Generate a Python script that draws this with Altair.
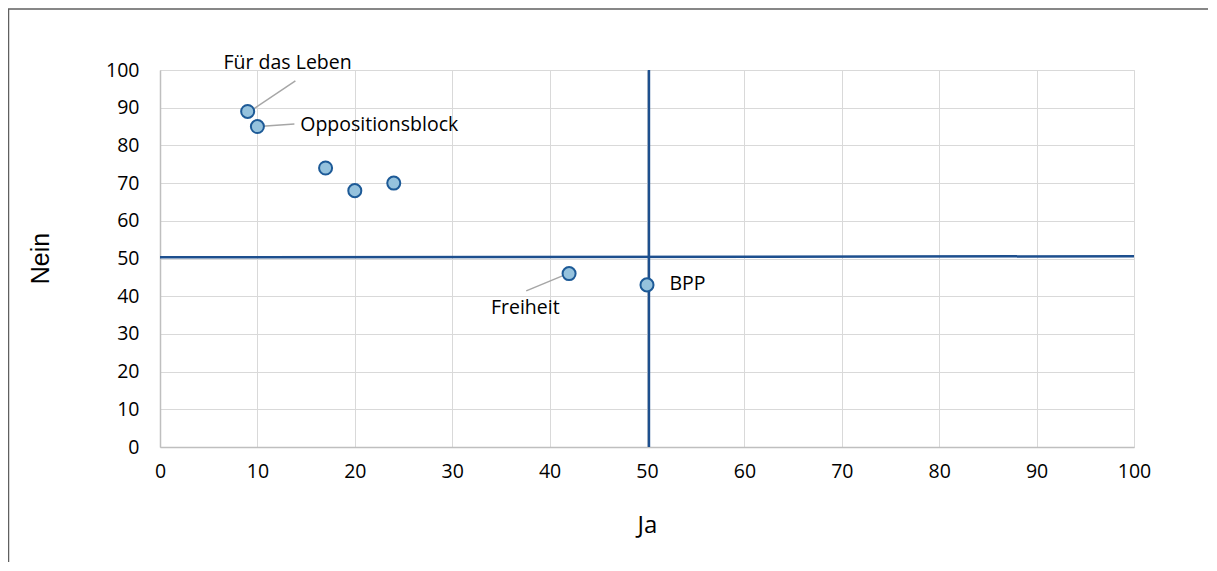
import altair as alt
import pandas as pd

# Data points
parties = ["Für das Leben", "Oppositionsblock", "", "", "", "Freiheit", "BPP"]
ja = [9, 10, 17, 20, 24, 42, 50]
nein = [89, 85, 74, 68, 70, 46, 43]

# Labels (anchor positions in data units)
label_text = ["Für das Leben", "Oppositionsblock", "Freiheit", "BPP"]
label_x = [13.1, 14.4, 37.5, 52.3]
label_y = [101.9, 85.4, 36.9, 43.2]
label_align = ["center", "left", "center", "left"]

# Leader lines (start/end in data units)
leader_id = ["a", "a", "b", "b", "c", "c"]
leader_x = [9.45, 13.9, 10.5, 13.8, 41.5, 37.6]
leader_y = [89.4, 97.1, 85.1, 85.7, 45.6, 41.4]

# Reference (quadrant) lines
ref_id = ["h", "h", "v", "v"]
ref_x = [0, 100, 50.2, 50.2]
ref_y = [50.3, 50.6, 0, 100]

ticks = list(range(0, 101, 10))
FONT = "Open Sans"
FS = 19.5

pts = pd.DataFrame({"party": parties, "ja": ja, "nein": nein})
labels = pd.DataFrame({"t": label_text, "x": label_x, "y": label_y, "al": label_align})
leaders = pd.DataFrame({"id": leader_id, "x": leader_x, "y": leader_y})
refs = pd.DataFrame({"id": ref_id, "x": ref_x, "y": ref_y})

xscale = alt.Scale(domain=[0, 100], nice=False)
yscale = alt.Scale(domain=[0, 100], nice=False)

xaxis = alt.Axis(values=ticks, title="Ja", grid=True, gridColor="#D9D9D9",
                 domainColor="#BFBFBF", domainWidth=1.5, ticks=False, tickSize=0,
                 labelPadding=15, labelFontSize=FS, labelFont=FONT, labelColor="#000",
                 labelOverlap=False, labelFlush=False,
                 titleFont=FONT, titleFontSize=24, titleFontWeight="normal", titleColor="#000",
                 titleBaseline="middle", titleY=78)
yaxis = alt.Axis(values=ticks, title="Nein", grid=True, gridColor="#D9D9D9",
                 domainColor="#BFBFBF", domainWidth=1.5, ticks=False, tickSize=0,
                 labelPadding=21, labelFontSize=FS, labelFont=FONT, labelColor="#000",
                 labelOverlap=False, labelFlush=False,
                 titleFont="Liberation Sans", titleFontSize=25, titleFontWeight="normal",
                 titleColor="#000", titleAngle=-90, titleBaseline="middle", titleAlign="center",
                 titleX=-120, titleY=188)


def X(f):
    return alt.X(f, scale=xscale, axis=xaxis)


def Y(f):
    return alt.Y(f, scale=yscale, axis=yaxis)


frame = alt.Chart(pd.DataFrame({"d": [0]})).mark_rect(
    fill=None, stroke="#606060", strokeWidth=1.5
).encode(x=alt.value(-151.5), x2=alt.value(1200), y=alt.value(-61), y2=alt.value(700))

ref_layer = alt.Chart(refs).mark_line(color="#1D4F8E", strokeWidth=2.5).encode(
    x=X("x:Q"), y=Y("y:Q"), detail="id:N",
)

leader_layer = alt.Chart(leaders).mark_line(color="#A6A6A6", strokeWidth=1.5).encode(
    x=X("x:Q"), y=Y("y:Q"), detail="id:N",
)

point_layer = alt.Chart(pts).mark_point(
    shape="circle", filled=True, fill="#95C2DD", stroke="#1D5A97", strokeWidth=2,
    size=170, opacity=1
).encode(x=X("ja:Q"), y=Y("nein:Q"))

text_layers = []
for al in ["center", "left"]:
    sub = labels[labels["al"] == al]
    text_layers.append(
        alt.Chart(sub).mark_text(align=al, baseline="middle", font=FONT, fontSize=FS,
                                 color="#000").encode(
            x=X("x:Q"), y=Y("y:Q"), text="t:N",
        )
    )

chart = alt.layer(frame, ref_layer, leader_layer, point_layer, *text_layers).properties(
    width=974, height=377,
    autosize=alt.AutoSizeParams(type="none"),
    padding={"left": 152, "top": 62, "right": 74, "bottom": 115},
).configure_view(stroke=None).configure(background="white")

chart.save("out.html", embed_options={"renderer": "svg", "actions": False})
